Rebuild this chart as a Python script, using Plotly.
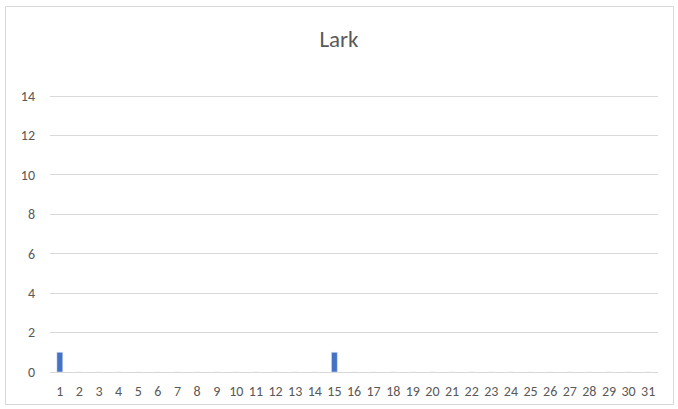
import plotly.graph_objects as go

days = [str(d) for d in range(1, 32)]
counts = [1, 0, 0, 0, 0, 0, 0, 0, 0, 0, 0, 0, 0, 0, 1, 0, 0, 0, 0, 0, 0, 0, 0, 0, 0, 0, 0, 0, 0, 0, 0]
y_ticks = [0, 2, 4, 6, 8, 10, 12, 14]

W, H = 678, 409
L, R, T, B = 50, 20, 92, 37
pw, ph = W - L - R, H - T - B
y_top = 14 * ph / (ph - 4)

def px(x):
    return (x - L) / pw

def py(y):
    return (H - B - y) / ph

font_family = "Carlito, Lato, sans-serif"

fig = go.Figure(go.Bar(x=days, y=counts, marker_color="#4472C4", width=0.3))

fig.update_layout(
    width=W, height=H,
    margin=dict(l=L, r=R, t=T, b=B, autoexpand=False),
    paper_bgcolor="white", plot_bgcolor="white",
    showlegend=False,
    title=dict(text="Lark", x=0.5, xanchor="center", y=1 - 39 / H, yanchor="middle",
               font=dict(family=font_family, size=23, color="#595959")),
    font=dict(family=font_family, size=14, color="#595959"),
    xaxis=dict(type="category", showgrid=False, showline=True, linecolor="#d9d9d9",
               ticks="", ticklabelstandoff=6, automargin=False,
               tickfont=dict(size=14, color="#595959"), tickangle=0),
    yaxis=dict(range=[0, y_top], tickvals=y_ticks, showgrid=True, gridcolor="#d9d9d9",
               zeroline=False, showline=False, ticks="", ticklabelstandoff=14, automargin=False,
               tickfont=dict(size=14, color="#595959")),
    shapes=[dict(type="rect", xref="paper", yref="paper",
                 x0=px(5.5), x1=px(673.5), y0=py(404.5), y1=py(6.5),
                 line=dict(color="#d9d9d9", width=1), fillcolor="rgba(0,0,0,0)", layer="below")],
)

fig.write_html("out.html", config={"displayModeBar": False},
               post_script="document.body.style.margin='0';")
